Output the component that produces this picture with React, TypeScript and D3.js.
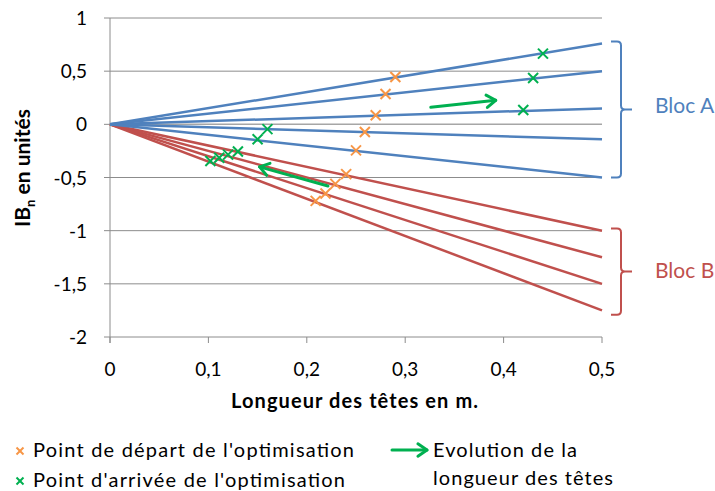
import React from "react";
import * as d3 from "d3";

const xTicks = [0, 0.1, 0.2, 0.3, 0.4, 0.5];
const yTicks = [1, 0.5, 0, -0.5, -1, -1.5, -2];
const blueEnds = [0.76, 0.5, 0.15, -0.14, -0.5];
const redEnds = [-1, -1.25, -1.5, -1.75];
const startX = [0.29, 0.28, 0.27, 0.259, 0.25, 0.24, 0.229, 0.219, 0.209];
const startY = [0.445, 0.285, 0.085, -0.072, -0.245, -0.468, -0.56, -0.65, -0.72];
const endX = [0.44, 0.43, 0.42, 0.16, 0.15, 0.13, 0.12, 0.111, 0.102];
const endY = [0.665, 0.435, 0.135, -0.045, -0.14, -0.255, -0.285, -0.315, -0.345];
const arrows = [
  { x1: 0.326, y1: 0.16, x2: 0.392, y2: 0.226 },
  { x1: 0.2215, y1: -0.58, x2: 0.152, y2: -0.4 },
];
const fmt = (v: number) => String(v).replace(".", ",");

const BLUE = "#4F81BD";
const RED = "#C0504D";
const ORANGE = "#F79646";
const GREEN = "#00B050";
const FONT = "Lato, 'Open Sans', sans-serif";

function Cross({ x, y, color, s = 5, w = 2 }: { x: number; y: number; color: string; s?: number; w?: number }) {
  return (
    <g stroke={color} strokeWidth={w}>
      <line x1={x - s} y1={y - s} x2={x + s} y2={y + s} />
      <line x1={x - s} y1={y + s} x2={x + s} y2={y - s} />
    </g>
  );
}

function Arrow({ x1, y1, x2, y2 }: { x1: number; y1: number; x2: number; y2: number }) {
  const a = Math.atan2(y2 - y1, x2 - x1);
  const L = 11;
  const w = 0.6;
  const p1 = [x2 - L * Math.cos(a - w), y2 - L * Math.sin(a - w)];
  const p2 = [x2 - L * Math.cos(a + w), y2 - L * Math.sin(a + w)];
  return (
    <g stroke={GREEN} strokeWidth={3} fill="none" strokeLinecap="round" strokeLinejoin="round">
      <line x1={x1} y1={y1} x2={x2} y2={y2} />
      <polyline points={`${p1[0]},${p1[1]} ${x2},${y2} ${p2[0]},${p2[1]}`} />
    </g>
  );
}

function Bracket({ x, y0, y1, color }: { x: number; y0: number; y1: number; color: string }) {
  const ym = (y0 + y1) / 2;
  const r = 4;
  const d = `M ${x - 10} ${y0} L ${x - r} ${y0} Q ${x} ${y0} ${x} ${y0 + r} L ${x} ${ym - r} Q ${x} ${ym} ${x + r} ${ym} L ${x + 11} ${ym} M ${x + r} ${ym} Q ${x} ${ym} ${x} ${ym + r} L ${x} ${y1 - r} Q ${x} ${y1} ${x - r} ${y1} L ${x - 10} ${y1}`;
  return <path d={d} stroke={color} strokeWidth={2} fill="none" />;
}

export default function App() {
  const x = d3.scaleLinear().domain([0, 0.5]).range([110, 602]);
  const y = d3.scaleLinear().domain([-2, 1]).range([337, 18]);
  const x0 = x(0), x1 = x(0.5);
  const aTop = y(d3.max(blueEnds)! + 0.02), aBot = y(d3.min(blueEnds)!);
  const bTop = y(d3.max(redEnds)! + 0.02), bBot = y(d3.min(redEnds)! - 0.04);

  return (
    <svg width={715} height={491} style={{ position: "absolute", left: 0, top: 0, background: "#fff" }} fontFamily={FONT}>
      {/* grid */}
      {yTicks.map((t) => (
        <line key={"g" + t} x1={x0} x2={x1} y1={y(t)} y2={y(t)} stroke={t === 0 ? "#a6a6a6" : "#8c8c8c"} strokeWidth={t === 0 ? 1.5 : 1} />
      ))}
      {/* axes */}
      <line x1={x0} x2={x0} y1={y(1)} y2={y(-2) + 6} stroke="#8c8c8c" />
      {yTicks.map((t) => (
        <line key={"yt" + t} x1={x0 - 6} x2={x0} y1={y(t)} y2={y(t)} stroke="#8c8c8c" />
      ))}
      {xTicks.map((t) => (
        <line key={"xt" + t} x1={x(t)} x2={x(t)} y1={y(-2)} y2={y(-2) + 6} stroke="#8c8c8c" />
      ))}
      {yTicks.map((t) => (
        <text key={"yl" + t} x={87} y={y(t) + 7} textAnchor="end" fontSize={19} fill="#000">{fmt(t)}</text>
      ))}
      {xTicks.map((t) => (
        <text key={"xl" + t} x={x(t)} y={376} textAnchor="middle" fontSize={19} fill="#000">{fmt(t)}</text>
      ))}
      {/* lines */}
      {redEnds.map((v, i) => (
        <line key={"r" + i} x1={x(0)} y1={y(0)} x2={x(0.5)} y2={y(v)} stroke={RED} strokeWidth={2.5} />
      ))}
      {blueEnds.map((v, i) => (
        <line key={"b" + i} x1={x(0)} y1={y(0)} x2={x(0.5)} y2={y(v)} stroke={BLUE} strokeWidth={2.5} />
      ))}
      {startX.map((v, i) => (
        <Cross key={"s" + i} x={x(v)} y={y(startY[i])} color={ORANGE} />
      ))}
      {endX.map((v, i) => (
        <Cross key={"e" + i} x={x(v)} y={y(endY[i])} color={GREEN} />
      ))}
      {arrows.map((a, i) => (
        <Arrow key={"a" + i} x1={x(a.x1)} y1={y(a.y1)} x2={x(a.x2)} y2={y(a.y2)} />
      ))}
      {/* brackets */}
      <Bracket x={621} y0={aTop} y1={aBot} color={BLUE} />
      <text x={655} y={(aTop + aBot) / 2 + 4} fontSize={21} fill={BLUE}>Bloc A</text>
      <Bracket x={621} y0={bTop} y1={bBot} color={RED} />
      <text x={655} y={(bTop + bBot) / 2 + 6} fontSize={21} fill={RED}>Bloc B</text>
      {/* titles */}
      <text x={231} y={408} fontSize={20} fontWeight="bold" fill="#000" textLength={247} lengthAdjust="spacing">Longueur des têtes en m.</text>
      <text transform={`translate(30,227) rotate(-90)`} fontSize={21} fontWeight="bold" fill="#000">
        IB<tspan fontSize={13} dy={5}>n</tspan><tspan dy={-5}> en unités</tspan>
      </text>
      {/* legend */}
      <Cross x={20} y={451} color={ORANGE} s={3.5} />
      <text x={33} y={457} fontSize={20} fill="#000" textLength={321} lengthAdjust="spacing">Point de départ de l'optimisation</text>
      <Cross x={20} y={481} color={GREEN} s={3.5} />
      <text x={33} y={487} fontSize={20} fill="#000" textLength={312} lengthAdjust="spacing">Point d'arrivée de l'optimisation</text>
      <Arrow x1={392} y1={450} x2={427} y2={450} />
      <text x={433} y={457} fontSize={20} fill="#000" textLength={144} lengthAdjust="spacing">Evolution de la</text>
      <text x={433} y={485} fontSize={20} fill="#000" textLength={180} lengthAdjust="spacing">longueur des têtes</text>
    </svg>
  );
}
